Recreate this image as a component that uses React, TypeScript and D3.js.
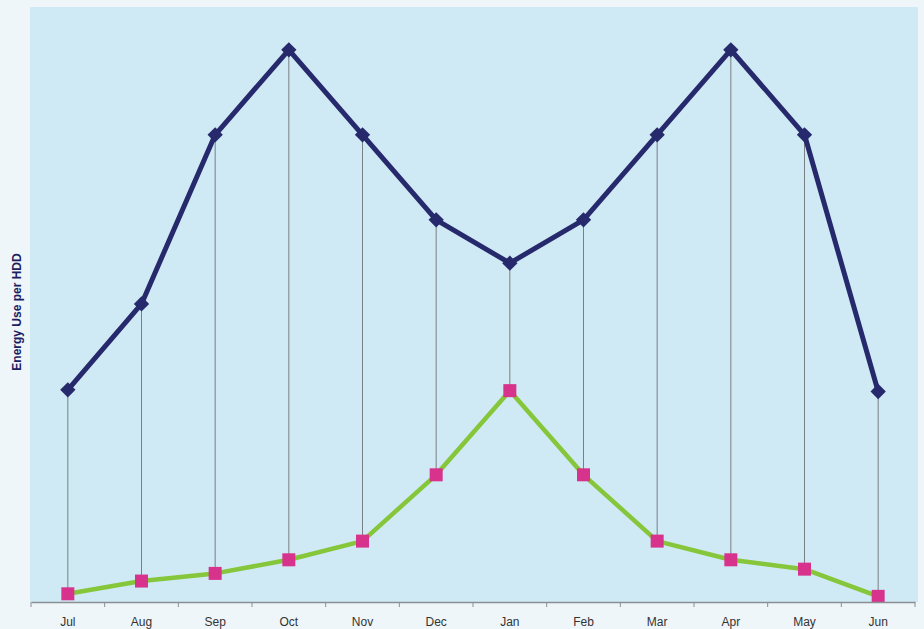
import React, { useEffect, useRef } from 'react';
import * as d3 from 'd3';

const months = ['Jul', 'Aug', 'Sep', 'Oct', 'Nov', 'Dec', 'Jan', 'Feb', 'Mar', 'Apr', 'May', 'Jun'];
const highSeries = [2.52, 3.53, 5.52, 6.52, 5.52, 4.52, 4.01, 4.52, 5.52, 6.52, 5.52, 2.5];
const lowSeries = [0.12, 0.27, 0.36, 0.52, 0.74, 1.52, 2.51, 1.52, 0.74, 0.52, 0.41, 0.09];
const yLabel = 'Energy Use per HDD';

const W = 924;
const H = 629;

const App: React.FC = () => {
  const svgRef = useRef<SVGSVGElement>(null);

  useEffect(() => {
    const svg = d3.select(svgRef.current);
    svg.selectAll('*').remove();

    const left = 31, right = 915, axisY = 602;

    // page background and plot panel
    svg.append('rect').attr('width', W).attr('height', H).attr('fill', '#eef6f9');
    svg.append('rect')
      .attr('x', 30).attr('y', 7)
      .attr('width', 918 - 30).attr('height', axisY - 7)
      .attr('fill', '#cfeaf4');

    const x = d3.scaleBand<string>().domain(months).range([left, right]);
    const y = d3.scaleLinear().domain([0, 7]).range([604, 604 - 7 * 85]);
    const cx = (m: string) => (x(m) || 0) + x.bandwidth() / 2;

    // high-low lines
    svg.append('g').selectAll('line')
      .data(months)
      .join('line')
      .attr('x1', d => cx(d)).attr('x2', d => cx(d))
      .attr('y1', (d, i) => y(highSeries[i]))
      .attr('y2', (d, i) => y(lowSeries[i]))
      .attr('stroke', '#7a7f85')
      .attr('stroke-width', 1);

    const line = d3.line<number>()
      .x((d, i) => cx(months[i]))
      .y(d => y(d));

    svg.append('path')
      .datum(lowSeries)
      .attr('d', line)
      .attr('fill', 'none')
      .attr('stroke', '#86c63a')
      .attr('stroke-width', 4.5)
      .attr('stroke-linejoin', 'round');

    svg.append('path')
      .datum(highSeries)
      .attr('d', line)
      .attr('fill', 'none')
      .attr('stroke', '#262a6c')
      .attr('stroke-width', 5)
      .attr('stroke-linejoin', 'round');

    // diamond markers
    svg.append('g').selectAll('path')
      .data(highSeries)
      .join('path')
      .attr('d', d3.symbol().type(d3.symbolDiamond2).size(150))
      .attr('transform', (d, i) => `translate(${cx(months[i])},${y(d)})`)
      .attr('fill', '#262a6c');

    // square markers
    const s = 13;
    svg.append('g').selectAll('rect')
      .data(lowSeries)
      .join('rect')
      .attr('x', (d, i) => cx(months[i]) - s / 2)
      .attr('y', d => y(d) - s / 2)
      .attr('width', s).attr('height', s)
      .attr('fill', '#d8338c');

    // x axis
    const axis = svg.append('g')
      .attr('transform', `translate(0,${axisY})`)
      .call(d3.axisBottom(x).tickSize(0).tickPadding(15));
    axis.select('.domain').attr('stroke', '#8a8f94').attr('stroke-width', 1.5);
    axis.selectAll('text')
      .attr('font-family', 'Liberation Sans, Arial, sans-serif')
      .attr('font-size', 12)
      .attr('fill', '#333');
    // tick marks at band boundaries
    const bounds = months.map(m => x(m) || 0).concat([right]);
    svg.append('g').selectAll('line')
      .data(bounds)
      .join('line')
      .attr('x1', d => d).attr('x2', d => d)
      .attr('y1', axisY).attr('y2', axisY + 5)
      .attr('stroke', '#8a8f94').attr('stroke-width', 1);

    svg.append('text')
      .attr('transform', `translate(21,312) rotate(-90)`)
      .attr('text-anchor', 'middle')
      .attr('font-family', 'Liberation Sans, Arial, sans-serif')
      .attr('font-weight', 'bold')
      .attr('font-size', 12)
      .attr('fill', '#1d2060')
      .text(yLabel);
  }, []);

  return (
    <svg ref={svgRef} width={W} height={H} style={{ position: 'absolute', left: 0, top: 0 }} />
  );
};

export default App;
